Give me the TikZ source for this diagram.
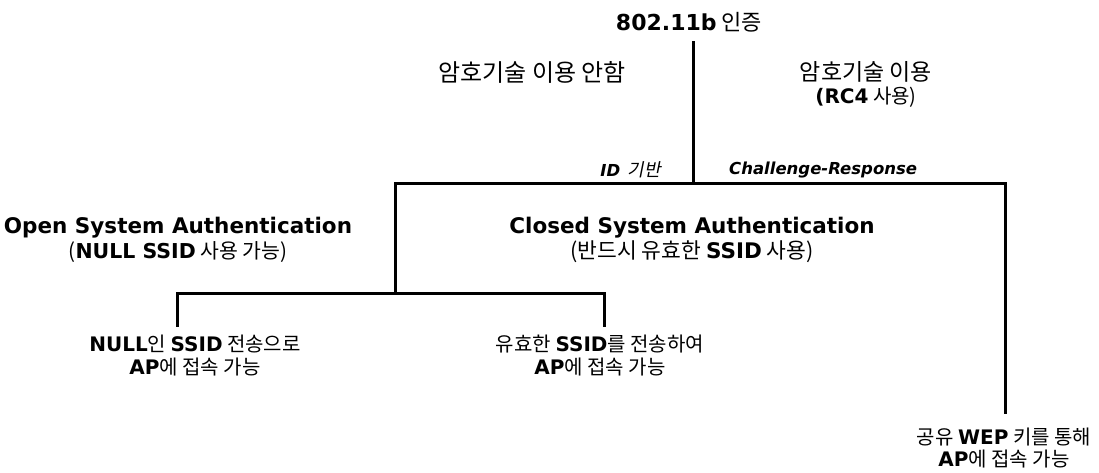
\documentclass[tikz,border=0pt]{standalone}
\usepackage{fontspec}
\setmainfont{Noto Sans CJK KR}
\newfontfamily\latfont{DejaVu Sans}
\newfontfamily\krslant[FakeSlant=0.2]{Noto Sans CJK KR}
\newcommand\lb[1]{{\latfont\bfseries #1}}
\newcommand\li[1]{{\latfont\bfseries\itshape #1}}
\begin{document}
\begin{tikzpicture}[x=1pt,y=-1pt,
  txt/.style={inner sep=0pt, align=center, font=\fontsize{20}{23}\selectfont},
  head/.style={inner sep=0pt, align=center, font=\fontsize{22}{23}\selectfont},
  auth/.style={inner sep=0pt, align=center, font=\fontsize{20.5}{25}\selectfont},
  edge/.style={inner sep=0pt, font=\fontsize{16.5}{18}\selectfont},
  branch/.style={line width=3pt, line cap=rect}]
\useasboundingbox (0,0) rectangle (1099,472);

% root
\node[head] (root) at (689,22) {\lb{802.11b} 인증};
\coordinate (top) at (693,42);
\coordinate (split) at (693,183);
\coordinate (lj) at (395,183);
\coordinate (rj) at (1005,183);
\coordinate (ldown) at (395,293);
\coordinate (ll) at (177,293);
\coordinate (lr) at (604,293);
\coordinate (llend) at (177,325);
\coordinate (lrend) at (604,325);
\coordinate (rend) at (1005,412);

% top branch labels
\node[head, font=\fontsize{24}{24}\selectfont] (noenc) at (532,72) {암호기술 이용 안함};
\node[txt] (enc) at (866,84) {{\fontsize{23}{23}\selectfont 암호기술 이용}\\\lb{(RC4} 사용)};
\node[edge, anchor=east] (idb) at (661,170) {\li{ID}\hspace{0.45em}{\krslant\fontsize{18}{18}\selectfont 기반}};
\node[edge, anchor=west] (cr) at (729,170) {\li{Challenge-Response}};

% authentication types
\node[auth] (open) at (178,240) {{\fontsize{21.5}{22}\selectfont\lb{Open System Authentication}}\\(\lb{NULL SSID} 사용 가능)};
\node[auth] (closed) at (692,240) {{\fontsize{21.5}{22}\selectfont\lb{Closed System Authentication}}\\{\fontsize{21.5}{22}\selectfont(반드시 유효한 \lb{SSID} 사용)}};

% outcomes
\node[txt] (nullap) at (195,356) {\lb{NULL}인 \lb{SSID} 전송으로\\\lb{AP}에 접속 가능};
\node[txt] (validap) at (600,356) {유효한 \lb{SSID}를 전송하여\\\lb{AP}에 접속 가능};
\node[txt, align=center, font=\fontsize{20}{22}\selectfont] (wepap) at (1004,448) {공유 \lb{WEP} 키를 통해\\\lb{AP}에 접속 가능};

% tree lines
\draw[branch] (top) -- (split);
\draw[branch] (rj) -- (lj) -- (ldown);
\draw[branch] (rj) -- (rend);
\draw[branch] (llend) -- (ll) -- (lr) -- (lrend);
\end{tikzpicture}
\end{document}
